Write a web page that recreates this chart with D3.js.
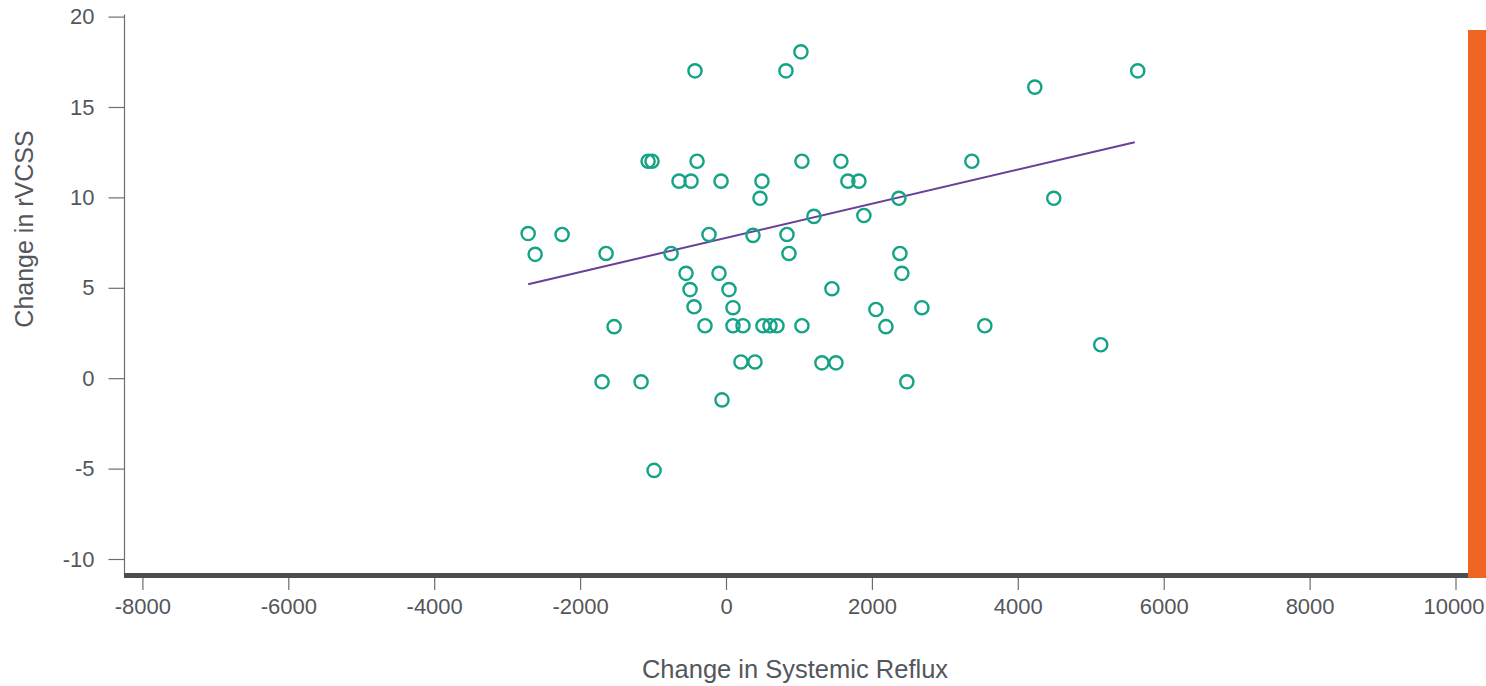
<!DOCTYPE html>
<html>
<head>
<meta charset="utf-8">
<script src="https://cdn.jsdelivr.net/npm/d3@7"></script>
<style>
  html, body { margin: 0; padding: 0; background: #fff; }
  svg { display: block; }
  text { font-family: "Liberation Sans", Arial, sans-serif; fill: #53575c; }
</style>
</head>
<body>
<svg id="chart" width="1486" height="686"></svg>
<script>
// ---- data ----
const refluxChange = [
  -2712, -2616, -2247, -1644, -1534, -1699, -1164, -1068, -1014, -986,
  -753, -644, -548, -493, -479, -438, -425, -397, -288, -233,
  -96, -68, -55, 41, 96, 96, 205, 233, 370, 397,
  466, 493, 507, 603, 699, 822, 836, 863, 1027, 1041,
  1041, 1205, 1315, 1452, 1507, 1575, 1671, 1822, 1890, 2055,
  2192, 2370, 2384, 2411, 2479, 2685, 3370, 3548, 4233, 4493,
  5137, 5644
];
const rvcssChange = [
  8.0, 6.85, 7.95, 6.9, 2.85, -0.2, -0.2, 12.0, 12.0, -5.1,
  6.9, 10.9, 5.8, 4.9, 10.9, 3.95, 17.0, 12.0, 2.9, 7.95,
  5.8, 10.9, -1.2, 4.9, 3.9, 2.9, 0.9, 2.9, 7.9, 0.9,
  9.95, 10.9, 2.9, 2.9, 2.9, 17.0, 7.95, 6.9, 18.05, 12.0,
  2.9, 8.95, 0.85, 4.95, 0.85, 12.0, 10.9, 10.9, 9.0, 3.8,
  2.85, 9.95, 6.9, 5.8, -0.2, 3.9, 12.0, 2.9, 16.1, 9.95,
  1.85, 17.0
];
const trendX = [-2712, 5603];
const trendY = [5.2, 13.05];
const xTicks = [-8000, -6000, -4000, -2000, 0, 2000, 4000, 6000, 8000, 10000];
const yTicks = [-10, -5, 0, 5, 10, 15, 20];
const xTitle = "Change in Systemic Reflux";
const yTitle = "Change in rVCSS";

// ---- drawing ----
const svg = d3.select("#chart");
const x = d3.scaleLinear().domain([-8000, 10000]).range([142.4, 1455.5]);
const y = d3.scaleLinear().domain([-10, 20]).range([559, 16.6]);
const fmt = d => String(d);

const plotLeft = 124.5, plotRight = 1468, axisBarY = 575.5;

// y axis
const yAxis = d3.axisLeft(y).tickValues(yTicks).tickSize(16).tickPadding(14).tickFormat(fmt);
const gy = svg.append("g").attr("transform", `translate(${plotLeft},0)`).call(yAxis);
gy.select(".domain").remove();
gy.selectAll(".tick line").attr("stroke", "#6b6f73").attr("stroke-width", 1.2);
gy.selectAll(".tick text").attr("font-size", 22).attr("fill", "#53575c")
  .style("font-family", "Liberation Sans, Arial, sans-serif");
svg.append("line")
  .attr("x1", plotLeft).attr("x2", plotLeft)
  .attr("y1", y(20) - 2).attr("y2", axisBarY)
  .attr("stroke", "#6b6f73").attr("stroke-width", 1.2);

// x axis
const xAxis = d3.axisBottom(x).tickValues(xTicks).tickSize(12).tickPadding(8).tickFormat(fmt);
const gx = svg.append("g").attr("transform", `translate(0,${axisBarY + 2.5})`).call(xAxis);
gx.select(".domain").remove();
gx.selectAll(".tick line").attr("stroke", "#6b6f73").attr("stroke-width", 1.2);
gx.selectAll(".tick text").attr("font-size", 22).attr("fill", "#53575c")
  .style("font-family", "Liberation Sans, Arial, sans-serif");
// keep the last label inside the frame
gx.selectAll(".tick text").filter(d => d === xTicks[xTicks.length - 1]).attr("dx", -2);
svg.append("line")
  .attr("x1", plotLeft - 0.5).attr("x2", plotRight)
  .attr("y1", axisBarY).attr("y2", axisBarY)
  .attr("stroke", "#4a4e53").attr("stroke-width", 5);

// orange side bar
svg.append("rect")
  .attr("x", plotRight).attr("y", 30)
  .attr("width", 1486 - plotRight).attr("height", axisBarY + 2.5 - 30)
  .attr("fill", "#ef6524");

// trend line
svg.append("line")
  .attr("x1", x(trendX[0])).attr("y1", y(trendY[0]))
  .attr("x2", x(trendX[1])).attr("y2", y(trendY[1]))
  .attr("stroke", "#6a3f98").attr("stroke-width", 2);

// points
svg.append("g").selectAll("circle")
  .data(refluxChange.map((v, i) => [v, rvcssChange[i]]))
  .join("circle")
  .attr("cx", d => x(d[0])).attr("cy", d => y(d[1]))
  .attr("r", 6.6)
  .attr("fill", "none")
  .attr("stroke", "#13a386")
  .attr("stroke-width", 2.4);

// titles
svg.append("text")
  .attr("x", 795).attr("y", 678)
  .attr("text-anchor", "middle").attr("font-size", 25.5)
  .text(xTitle);
svg.append("text")
  .attr("transform", `translate(33,229) rotate(-90)`)
  .attr("text-anchor", "middle").attr("font-size", 25)
  .text(yTitle);
</script>
</body>
</html>
